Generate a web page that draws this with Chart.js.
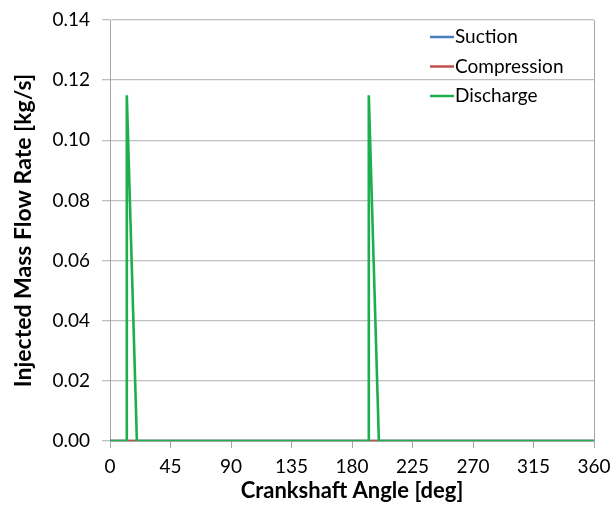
<!DOCTYPE html>
<html>
<head>
<meta charset="utf-8">
<script src="https://cdn.jsdelivr.net/npm/chart.js@4/dist/chart.umd.min.js"></script>
<style>
html,body{margin:0;padding:0;background:#fff;}
#wrap{width:613px;height:512px;}
</style>
</head>
<body>
<div id="wrap"><canvas id="c" width="613" height="512"></canvas></div>
<script>
// ---- data ----
const seriesNames = ["Suction", "Compression", "Discharge"];
const suctionAngle = [0, 360];
const suctionFlow = [0, 0];
const compressionAngle = [0, 360];
const compressionFlow = [0, 0];
const dischargeAngle = [0, 12.5, 12.5, 20, 192.5, 192.5, 200, 360];
const dischargeFlow = [0, 0, 0.115, 0, 0, 0.115, 0, 0];
const xTicks = [0, 45, 90, 135, 180, 225, 270, 315, 360];
const yTicks = [0, 0.02, 0.04, 0.06, 0.08, 0.10, 0.12, 0.14];

const toPts = (xs, ys) => xs.map((x, i) => ({x: x, y: ys[i]}));
const colors = ["#4A7EBB", "#C0504D", "#1DAF4E"];

const insideLegend = {
  id: 'insideLegend',
  afterDatasetsDraw(chart) {
    const ctx = chart.ctx;
    const a = chart.chartArea;
    ctx.save();
    // right border of plot area
    ctx.strokeStyle = '#A6A6A6';
    ctx.lineWidth = 1;
    ctx.beginPath();
    ctx.moveTo(Math.round(a.right) + 0.5, a.top);
    ctx.lineTo(Math.round(a.right) + 0.5, a.bottom);
    ctx.stroke();
    // legend
    const x0 = 430, y0 = 37, dy = 29.5;
    ctx.font = '19px Lato';
    ctx.textBaseline = 'middle';
    chart.data.datasets.forEach((ds, i) => {
      const y = y0 + i * dy;
      ctx.fillStyle = '#fff';
      ctx.fillRect(x0 - 2, y - 12, 160, 24);
      ctx.strokeStyle = ds.borderColor;
      ctx.lineWidth = 2.5;
      ctx.beginPath();
      ctx.moveTo(x0, y);
      ctx.lineTo(x0 + 24, y);
      ctx.stroke();
      ctx.fillStyle = '#000';
      ctx.fillText(ds.label, x0 + 25, y);
    });
    ctx.restore();
  }
};

new Chart(document.getElementById('c'), {
  type: 'scatter',
  data: {
    datasets: [
      {label: seriesNames[0], data: toPts(suctionAngle, suctionFlow), borderColor: colors[0], backgroundColor: colors[0], order: 3},
      {label: seriesNames[1], data: toPts(compressionAngle, compressionFlow), borderColor: colors[1], backgroundColor: colors[1], order: 2},
      {label: seriesNames[2], data: toPts(dischargeAngle, dischargeFlow), borderColor: colors[2], backgroundColor: colors[2], order: 1}
    ].map(d => Object.assign(d, {showLine: true, pointRadius: 0, borderWidth: 2.6, tension: 0, fill: false}))
  },
  options: {
    responsive: false,
    animation: false,
    layout: {padding: {top: 20, right: 19, left: 0, bottom: 0}},
    plugins: {legend: {display: false}, tooltip: {enabled: false}},
    scales: {
      x: {
        type: 'linear', min: 0, max: 360,
        afterBuildTicks: s => { s.ticks = xTicks.map(v => ({value: v})); },
        afterFit: s => { s.height = 71; s.paddingLeft = 0; s.paddingRight = 0; },
        grid: {drawOnChartArea: false, drawTicks: true, tickLength: 7, color: '#A6A6A6'},
        border: {color: '#A6A6A6'},
        ticks: {color: '#000', font: {family: 'Lato', size: 19}, padding: 7, maxRotation: 0},
        title: {display: true, text: 'Crankshaft Angle [deg]', color: '#000', font: {family: 'Lato', size: 22, weight: 'bold'}, padding: {top: 0, bottom: 8}}
      },
      y: {
        type: 'linear', min: 0, max: 0.14,
        afterBuildTicks: s => { s.ticks = yTicks.map(v => ({value: v})); },
        afterFit: s => { s.width = 110; s.paddingTop = 0; s.paddingBottom = 0; },
        grid: {color: '#BFBFBF', lineWidth: 1.3, tickLength: 8, drawTicks: true},
        border: {color: '#A6A6A6'},
        ticks: {color: '#000', font: {family: 'Lato', size: 19}, padding: 12, callback: v => v.toFixed(2)},
        title: {display: true, text: 'Injected Mass Flow Rate [kg/s]', color: '#000', font: {family: 'Lato', size: 23, weight: 'bold'}, padding: {top: 10, bottom: 6}}
      }
    }
  },
  plugins: [insideLegend]
});
</script>
</body>
</html>
